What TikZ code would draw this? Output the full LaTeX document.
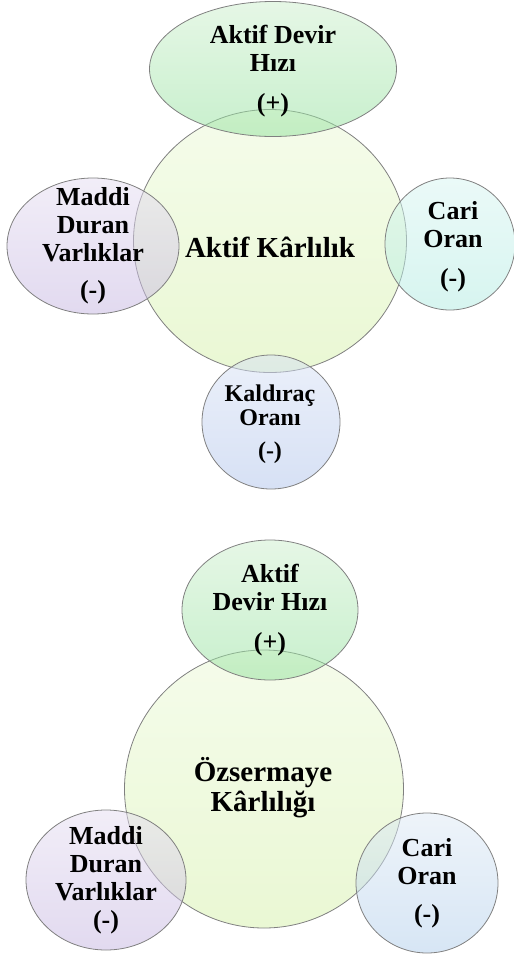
\documentclass[tikz,border=0pt]{standalone}
\usepackage{fontspec}
\setmainfont{Liberation Serif}
\usetikzlibrary{shapes.geometric}

\definecolor{limeT}{RGB}{235,249,215}
\definecolor{limeB}{RGB}{213,241,169}
\definecolor{mintT}{RGB}{205,239,205}
\definecolor{mintB}{RGB}{145,225,155}
\definecolor{lilacT}{RGB}{229,221,241}
\definecolor{lilacB}{RGB}{197,181,225}
\definecolor{aquaT}{RGB}{215,245,241}
\definecolor{aquaB}{RGB}{175,235,225}
\definecolor{periT}{RGB}{215,225,245}
\definecolor{periB}{RGB}{175,195,235}
\definecolor{skyT}{RGB}{221,233,245}
\definecolor{skyB}{RGB}{175,205,235}

\begin{document}
\begin{tikzpicture}
  [
    x=1pt, y=-1pt,
    bubble/.style =
      {draw=black!50, line width=0.8pt, ellipse, inner sep=0pt, fill opacity=0.5},
    lime/.style  = {bubble, top color=limeT,  bottom color=limeB},
    mint/.style  = {bubble, top color=mintT,  bottom color=mintB},
    lilac/.style = {bubble, top color=lilacT, bottom color=lilacB},
    aqua/.style  = {bubble, top color=aquaT,  bottom color=aquaB},
    peri/.style  = {bubble, top color=periT,  bottom color=periB},
    sky/.style   = {bubble, top color=skyT,   bottom color=skyB},
    txt/.style =
      {align=center, inner sep=0pt, text opacity=1, font=\bfseries\fontsize{26}{28}\selectfont},
    small/.style =
      {txt, font=\bfseries\fontsize{24}{24}\selectfont},
    big/.style =
      {txt, font=\bfseries\fontsize{29}{30}\selectfont}
  ]
  \useasboundingbox (0,0) rectangle (514,954);

  % Aktif Karlilik
  \node [lime,  minimum width=273, minimum height=263] at (270,241) (akt)  {};
  \node [mint,  minimum width=247, minimum height=135] at (273, 69) (adh)  {};
  \node [lilac, minimum width=172, minimum height=136] at ( 93,246) (mdv)  {};
  \node [aqua,  minimum width=130, minimum height=132] at (450,244) (cari) {};
  \node [peri,  minimum width=138, minimum height=134] at (271,422) (kal)  {};

  \node [big]   at (270,247) (akt-t)  {Aktif Kârlılık};
  \node [txt]   at (273, 71) (adh-t)  {Aktif Devir\\Hızı\\[12pt](+)};
  \node [txt]   at ( 93,246) (mdv-t)  {Maddi\\Duran\\Varlıklar\\[9pt](-)};
  \node [txt]   at (453,247) (cari-t) {Cari\\Oran\\[11pt](-)};
  \node [small] at (270,424) (kal-t)  {Kaldıraç\\Oranı\\[9pt](-)};

  % Ozsermaye Karliligi
  \node [lime,  minimum width=279, minimum height=278] at (264,789) (ozk)   {};
  \node [mint,  minimum width=176, minimum height=140] at (270,610) (adh2)  {};
  \node [lilac, minimum width=160, minimum height=140] at (106,880) (mdv2)  {};
  \node [sky,   minimum width=142, minimum height=140] at (427,883) (cari2) {};

  \node [big] at (263,788) (ozk-t)   {Özsermaye\\Kârlılığı};
  \node [txt] at (270,610) (adh2-t)  {Aktif\\Devir Hızı\\[12pt](+)};
  \node [txt] at (106,880) (mdv2-t)  {Maddi\\Duran\\Varlıklar\\(-)};
  \node [txt] at (427,883) (cari2-t) {Cari\\Oran\\[10pt](-)};
\end{tikzpicture}
\end{document}
